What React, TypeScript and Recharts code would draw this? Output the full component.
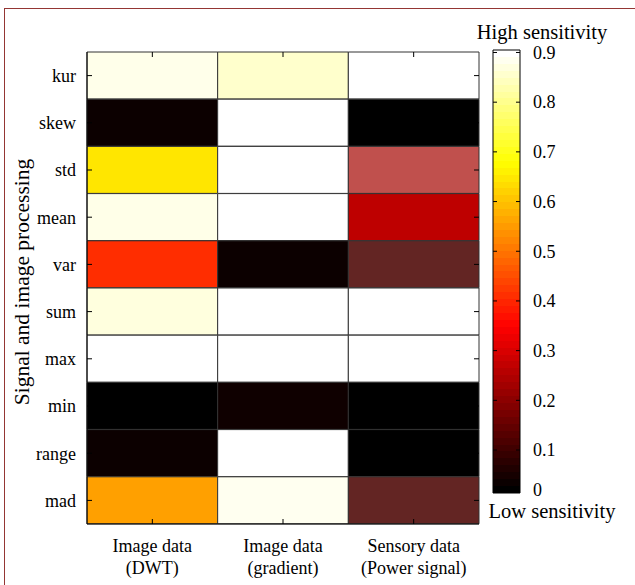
import { Bar, BarChart, Cell, XAxis, YAxis } from 'recharts'

const features = ['kur', 'skew', 'std', 'mean', 'var', 'sum', 'max', 'min', 'range', 'mad']
const sourceNames = ['Image data', 'Image data', 'Sensory data']
const sourceDetails = ['(DWT)', '(gradient)', '(Power signal)']

// sensitivity per feature, same order as features
const dwt = [0.887, 0.029, 0.649, 0.885, 0.407, 0.876, 0.905, 0.01, 0.029, 0.557]
const gradient = [0.86, 0.905, 0.905, 0.905, 0.029, 0.905, 0.905, 0.033, 0.905, 0.892]
const powerSignal = [0.905, 0.01, 0.3, 0.262, 0.12, 0.905, 0.905, 0.01, 0.01, 0.12]

const colorLimits = [0.0135, 0.905]
const colorTicks = [0.0135, 0.1, 0.2, 0.3, 0.4, 0.5, 0.6, 0.7, 0.8, 0.9]

const FONT = 'Liberation Serif, Times New Roman, DejaVu Serif, serif'
const textStyle = { fontFamily: FONT }

const sourceKeys = ['dwt', 'gradient', 'power']
const sourceValues = [dwt, gradient, powerSignal]

// a few cells were recoloured by hand in the original figure
const recoloured: Record<string, string> = {
  'power-std': '#c0504d',
  'power-var': '#632523',
  'power-mad': '#632523',
}

// heatmap plot box and colorbar box (page coords)
const HEAT = { left: 87, top: 52, right: 479, bottom: 524 }
const CBAR = { left: 493, top: 50, right: 520, bottom: 493 }

function hot(t: number) {
  const c = (x: number) => Math.round(255 * Math.min(1, Math.max(0, x)))
  return `rgb(${c(t / 0.375)},${c((t - 0.375) / 0.375)},${c((t - 0.75) / 0.25)})`
}

const toUnit = (v: number) => (v - colorLimits[0]) / (colorLimits[1] - colorLimits[0])

function cellFill(col: number, row: number) {
  const key = `${sourceKeys[col]}-${features[row]}`
  return recoloured[key] ?? hot(toUnit(sourceValues[col][row]))
}

const rows = features.map((feature) => ({ feature, dwt: 1, gradient: 1, power: 1 }))
const colorbarData = [{ name: 'scale', top: colorLimits[1] }]

const bands = Array.from({ length: 64 }, (_, k) => k)

const ColumnTick = (props: any) => {
  const { x, y, payload } = props
  const c = Math.floor(payload.value)
  const top = y - (HEAT.bottom - HEAT.top)
  return (
    <g>
      <line x1={x} x2={x} y1={y} y2={y - 5} stroke="#000" />
      <line x1={x} x2={x} y1={top} y2={top + 5} stroke="#000" />
      <text x={x} y={y + 28} textAnchor="middle" style={textStyle} fontSize={18} fill="#000">
        <tspan x={x}>{sourceNames[c]}</tspan>
        <tspan x={x} dy={22}>{sourceDetails[c]}</tspan>
      </text>
    </g>
  )
}

const RowTick = (props: any) => {
  const { x, y, payload } = props
  const right = x + (HEAT.right - HEAT.left)
  return (
    <g>
      <line x1={x} x2={x + 5} y1={y} y2={y} stroke="#000" />
      <line x1={right} x2={right - 5} y1={y} y2={y} stroke="#000" />
      <text x={x - 11} y={y} dy="0.35em" textAnchor="end" style={textStyle} fontSize={18} fill="#000">
        {payload.value}
      </text>
    </g>
  )
}

const ColorTick = (props: any) => {
  const { x, y, payload } = props
  const right = x + (CBAR.right - CBAR.left)
  const isZero = payload.value < 0.05
  return (
    <g>
      {!isZero && <line x1={x} x2={x + 4} y1={y} y2={y} stroke="#000" />}
      {!isZero && <line x1={right} x2={right - 4} y1={y} y2={y} stroke="#000" />}
      <text x={right + 13} y={isZero ? y - 3 : y} dy="0.35em" textAnchor="start" style={textStyle} fontSize={18} fill="#000">
        {isZero ? '0' : payload.value.toFixed(1)}
      </text>
    </g>
  )
}

export default function App() {
  return (
    <div style={{ position: 'absolute', left: 0, top: 0, width: 635, height: 585, background: '#fff' }}>
      <div
        style={{
          position: 'absolute',
          left: 4,
          top: 8,
          right: 0,
          bottom: 0,
          borderTop: '1px solid #943634',
          borderLeft: '1px solid #943634',
        }}
      />
      <div style={{ position: 'absolute', left: 0, top: 0 }}>
        <BarChart
          width={635}
          height={585}
          data={rows}
          layout="vertical"
          barCategoryGap={0}
          margin={{ top: HEAT.top, right: 635 - HEAT.right, bottom: 585 - HEAT.bottom - 60, left: HEAT.left - 70 }}
        >
          <XAxis
            type="number"
            domain={[0, 3]}
            ticks={[0.5, 1.5, 2.5]}
            height={60}
            tickLine={false}
            tickSize={0}
            tickMargin={0}
            axisLine={{ stroke: '#000' }}
            tick={<ColumnTick />}
          />
          <YAxis
            type="category"
            dataKey="feature"
            width={70}
            tickLine={false}
            tickSize={0}
            tickMargin={0}
            axisLine={{ stroke: '#000' }}
            tick={<RowTick />}
          />
          {sourceKeys.map((key, c) => (
            <Bar key={key} dataKey={key} stackId="cells" isAnimationActive={false}>
              {features.map((f, r) => (
                <Cell key={f} fill={cellFill(c, r)} stroke="#333" strokeWidth={1} />
              ))}
            </Bar>
          ))}
        </BarChart>
      </div>
      <div style={{ position: 'absolute', left: 0, top: 0 }}>
        <BarChart
          width={635}
          height={585}
          data={colorbarData}
          barCategoryGap={0}
          margin={{ top: CBAR.top, right: 635 - CBAR.right, bottom: 585 - CBAR.bottom, left: CBAR.left - 10 }}
        >
          <defs>
            <linearGradient id="hotBar" x1="0" y1="1" x2="0" y2="0">
              {bands.map((k) => [
                <stop key={`a${k}`} offset={k / 64} stopColor={hot(k / 63)} />,
                <stop key={`b${k}`} offset={(k + 1) / 64} stopColor={hot(k / 63)} />,
              ])}
            </linearGradient>
          </defs>
          <XAxis dataKey="name" hide />
          <YAxis
            type="number"
            domain={colorLimits}
            ticks={colorTicks}
            width={10}
            axisLine={false}
            tickLine={false}
            tickSize={0}
            tickMargin={0}
            tick={<ColorTick />}
          />
          <Bar dataKey="top" fill="url(#hotBar)" stroke="#000" strokeWidth={1} isAnimationActive={false} />
        </BarChart>
      </div>
      <svg width={635} height={585} style={{ position: 'absolute', left: 0, top: 0, pointerEvents: 'none' }}>
        <text x={542} y={39} textAnchor="middle" style={textStyle} fontSize={20.5} fill="#000">
          High sensitivity
        </text>
        <text x={552} y={518} textAnchor="middle" style={textStyle} fontSize={20.5} fill="#000">
          Low sensitivity
        </text>
        <text
          x={29}
          y={282}
          transform="rotate(-90 29 282)"
          textAnchor="middle"
          style={textStyle}
          fontSize={21.5}
          fill="#000"
        >
          Signal and image processing
        </text>
      </svg>
    </div>
  )
}
